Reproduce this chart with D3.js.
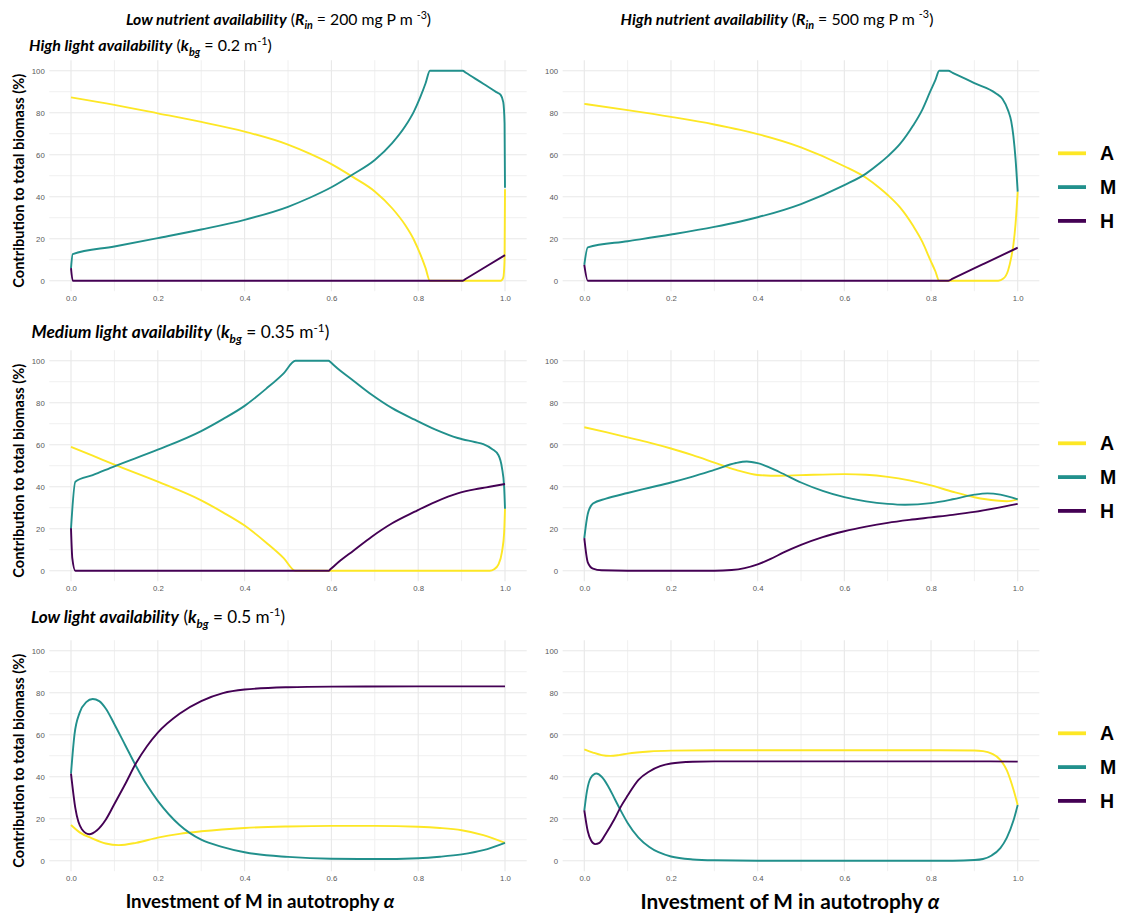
<!DOCTYPE html>
<html>
<head>
<meta charset="utf-8">
<script src="https://cdn.jsdelivr.net/npm/d3@7"></script>
<style>
  body { margin: 0; background: #fff; }
  svg { display: block; }
</style>
</head>
<body>
<svg id="fig" width="1121" height="916"></svg>
<script>
// Share of total biomass (%) of A, M and H along the investment of M in autotrophy (alpha).
// Each series is a list of [alpha, percent] pairs.

// Low nutrients, high light
const lowN_highL_A = [[0,87.3],[0.1,83.7],[0.2,79.7],[0.3,75.6],[0.4,71],[0.5,64.8],[0.55,60.5],[0.6,55.5],[0.65,49.3],[0.7,42.5],[0.74,34.5],[0.77,26.5],[0.79,19.5],[0.805,12.5],[0.817,6],[0.827,0],[0.99,0],[0.996,1.5],[0.999,10],[1,43.5]];
const lowN_highL_M = [[0,6],[0.004,12.7],[0.1,16.3],[0.2,20.3],[0.3,24.4],[0.4,29],[0.5,35.2],[0.55,39.5],[0.6,44.5],[0.65,50.7],[0.7,57.5],[0.74,65.5],[0.77,73.5],[0.79,80.5],[0.805,87.5],[0.817,94],[0.827,100],[0.9025,100],[0.91,99],[0.95,93.8],[0.98,89.8],[0.99,88.5],[0.996,85],[0.999,75],[1,44.3]];
const lowN_highL_H = [[0,6],[0.004,0],[0.9025,0],[0.91,0.94],[0.95,5.95],[1,12.2]];

// High nutrients, high light
const highN_highL_A = [[0,84.2],[0.1,81.2],[0.2,78],[0.3,74.4],[0.36,71.8],[0.4,69.8],[0.5,63.5],[0.6,54.5],[0.65,49],[0.682,44],[0.7,40.8],[0.728,35],[0.759,26],[0.78,18.5],[0.798,10],[0.81,4.5],[0.819,0],[0.955,0],[0.967,1],[0.978,5],[0.985,11],[0.99,17],[0.995,27],[1,42.4]];
const highN_highL_M = [[0,7.5],[0.008,15.9],[0.1,18.8],[0.2,22],[0.3,25.6],[0.36,28.2],[0.4,30.2],[0.5,36.5],[0.6,45.5],[0.65,51],[0.682,56],[0.7,59.2],[0.728,65],[0.759,74],[0.78,81.5],[0.798,90],[0.81,95.5],[0.819,100],[0.84,100],[0.85,99],[0.9,94.1],[0.95,89.2],[0.965,86.5],[0.978,81],[0.985,76],[0.99,69],[0.995,58],[1,42.4]];
const highN_highL_H = [[0,7.5],[0.008,0],[0.84,0],[0.85,0.98],[0.92,7.85],[1,15.7]];

// Low nutrients, medium light
const lowN_medL_A = [[0,59],[0.05,54.8],[0.1,50.5],[0.2,42.4],[0.3,33.5],[0.35,27.8],[0.4,21.5],[0.45,13.3],[0.49,6],[0.517,0],[0.965,0],[0.975,0.7],[0.985,3],[0.993,9],[0.998,18],[1,29.5]];
const lowN_medL_M = [[0,20],[0.01,42.4],[0.05,45.5],[0.1,49.7],[0.2,57.6],[0.3,66.5],[0.35,72.2],[0.4,78.5],[0.45,86.7],[0.49,94],[0.517,100],[0.594,100],[0.597,99.46],[0.62,95.3],[0.65,90.6],[0.693,83.8],[0.74,77.4],[0.792,71.9],[0.84,67.2],[0.891,63.2],[0.93,61.3],[0.95,60.3],[0.97,58],[0.985,55],[0.993,49],[0.998,40],[1,29.5]];
const lowN_medL_H = [[0,20.2],[0.003,6],[0.01,0],[0.594,0],[0.597,0.54],[0.62,4.7],[0.65,9.4],[0.693,16.2],[0.74,22.6],[0.792,28.1],[0.84,32.8],[0.891,36.8],[0.93,38.7],[0.957,39.7],[1,41.3]];

// High nutrients, medium light
const highN_medL_A = [[0,68.3],[0.05,66],[0.1,63.5],[0.15,61],[0.2,58.2],[0.25,55],[0.3,51.5],[0.35,48],[0.4,45.6],[0.45,45.2],[0.5,45.5],[0.6,46],[0.65,45.7],[0.7,44.7],[0.75,43],[0.8,40.6],[0.85,37.6],[0.9,35],[0.95,33.4],[0.975,33.1],[1,34]];
const highN_medL_M = [[0,15.5],[0.008,27],[0.02,32],[0.05,34.3],[0.1,37],[0.15,39.5],[0.2,42],[0.25,44.8],[0.3,48],[0.35,51.3],[0.375,52],[0.4,51.2],[0.45,47],[0.5,42],[0.55,38],[0.6,35],[0.65,33],[0.7,31.8],[0.74,31.4],[0.8,32.2],[0.85,34],[0.9,36.2],[0.93,36.8],[0.96,36.2],[1,34]];
const highN_medL_H = [[0,15.5],[0.008,4],[0.02,1],[0.04,0.2],[0.1,0],[0.3,0],[0.34,0.3],[0.37,1.2],[0.4,3],[0.43,5.6],[0.46,8.7],[0.5,12.3],[0.55,16],[0.6,18.8],[0.65,21],[0.7,22.8],[0.75,24.2],[0.8,25.4],[0.85,26.6],[0.9,28],[0.95,29.8],[1,31.8]];

// Low nutrients, low light
const lowN_lowL_A = [[0,17],[0.02,13.5],[0.05,10.5],[0.08,8.2],[0.11,7.4],[0.15,8.5],[0.2,11],[0.25,12.8],[0.3,14],[0.4,15.6],[0.5,16.3],[0.6,16.6],[0.7,16.6],[0.8,16.2],[0.85,15.6],[0.9,14.5],[0.95,12.2],[1,8.5]];
const lowN_lowL_M = [[0,41.5],[0.008,60],[0.02,70.5],[0.035,75.5],[0.05,77],[0.065,76],[0.08,72.5],[0.1,65],[0.125,55],[0.15,45],[0.175,36],[0.2,28.5],[0.25,17],[0.3,10],[0.35,6.5],[0.4,4],[0.5,1.8],[0.6,0.9],[0.7,0.8],[0.8,1.2],[0.85,1.9],[0.9,3],[0.95,5],[1,8.5]];
const lowN_lowL_H = [[0,41.5],[0.01,25],[0.025,15],[0.042,12.6],[0.06,14.5],[0.08,19.5],[0.1,27],[0.125,36.5],[0.15,46.5],[0.175,54.5],[0.2,61],[0.25,70],[0.3,76],[0.35,79.8],[0.4,81.5],[0.5,82.6],[0.6,82.9],[0.8,83],[1,83]];

// High nutrients, low light
const highN_lowL_A = [[0,53],[0.02,51.5],[0.04,50.3],[0.06,49.9],[0.08,50.3],[0.1,51],[0.15,52],[0.2,52.4],[0.3,52.6],[0.5,52.6],[0.7,52.6],[0.9,52.5],[0.92,52.2],[0.94,51],[0.96,48],[0.975,43],[0.99,34],[1,26.5]];
const highN_lowL_M = [[0,23.8],[0.006,33],[0.015,39.5],[0.028,41.5],[0.04,40],[0.055,35.5],[0.07,29.5],[0.085,23.5],[0.1,18],[0.125,11],[0.15,6.5],[0.2,2],[0.25,0.6],[0.3,0.2],[0.4,0],[0.85,0],[0.9,0.3],[0.92,0.8],[0.94,2.5],[0.96,6],[0.975,11],[0.99,19],[1,26.5]];
const highN_lowL_H = [[0,24],[0.008,14],[0.016,9.5],[0.025,7.9],[0.035,8.5],[0.05,13],[0.07,20],[0.085,26],[0.1,31],[0.125,38.5],[0.15,42.5],[0.175,45],[0.2,46.3],[0.25,47.1],[0.3,47.3],[0.6,47.3],[0.9,47.3],[1,47.2]];

// Groups, axis ticks and labels
const groups = ["A", "M", "H"];
const groupColors = ["#FDE725", "#21908C", "#440154"];
const xTicks = [0, 0.2, 0.4, 0.6, 0.8, 1.0];
const yTicks = [0, 20, 40, 60, 80, 100];
const xMinor = [0.1, 0.3, 0.5, 0.7, 0.9];
const yMinor = [10, 30, 50, 70, 90];

const panels = [
  { col: 0, row: 0, series: [lowN_highL_A, lowN_highL_M, lowN_highL_H] },
  { col: 1, row: 0, series: [highN_highL_A, highN_highL_M, highN_highL_H] },
  { col: 0, row: 1, series: [lowN_medL_A, lowN_medL_M, lowN_medL_H] },
  { col: 1, row: 1, series: [highN_medL_A, highN_medL_M, highN_medL_H] },
  { col: 0, row: 2, series: [lowN_lowL_A, lowN_lowL_M, lowN_lowL_H] },
  { col: 1, row: 2, series: [highN_lowL_A, highN_lowL_M, highN_lowL_H] }
];

const colTitles = [
  [{t:"Low nutrient availability", b:1, i:1}, {t:" ("}, {t:"R", b:1, i:1}, {t:"in", b:1, i:1, sub:1}, {t:" = 200 mg P m "}, {t:"-3", sup:1}, {t:")"}],
  [{t:"High nutrient availability", b:1, i:1}, {t:" ("}, {t:"R", b:1, i:1}, {t:"in", b:1, i:1, sub:1}, {t:" = 500 mg P m "}, {t:"-3", sup:1}, {t:")"}]
];
const rowTitles = [
  [{t:"High light availability", b:1, i:1}, {t:" ("}, {t:"k", b:1, i:1}, {t:"bg", b:1, i:1, sub:1}, {t:" = 0.2 m"}, {t:"-1", sup:1}, {t:")"}],
  [{t:"Medium light availability", b:1, i:1}, {t:" ("}, {t:"k", b:1, i:1}, {t:"bg", b:1, i:1, sub:1}, {t:" = 0.35 m"}, {t:"-1", sup:1}, {t:")"}],
  [{t:"Low light availability", b:1, i:1}, {t:" ("}, {t:"k", b:1, i:1}, {t:"bg", b:1, i:1, sub:1}, {t:" = 0.5 m"}, {t:"-1", sup:1}, {t:")"}]
];
const yTitle = "Contribution to total biomass (%)";
const xTitle = [{t:"Investment of M in autotrophy ", b:1}, {t:"\u03b1", b:1, i:1}];

// Layout
const svg = d3.select("#fig");
const titleFont = "Lato, 'Open Sans', 'DejaVu Sans', sans-serif";
const tickFont = "'Liberation Sans', Arial, sans-serif";
const colRange = [[71, 505], [584.3, 1017.7]];
const rowStep = 290;
const rowTop = 70.7, rowBottom = 280.7;

function rich(sel, x, y, segs, size, anchor) {
  const text = sel.append("text")
    .attr("x", x).attr("y", y)
    .attr("text-anchor", anchor || "start")
    .style("font-family", titleFont)
    .style("font-size", size + "px")
    .attr("fill", "#000");
  let shift = 0;
  segs.forEach(s => {
    const target = s.sub ? 0.3 * size : s.sup ? -0.38 * size : 0;
    text.append("tspan")
      .attr("dy", target - shift)
      .style("font-weight", s.b ? "bold" : "normal")
      .style("font-style", s.i ? "italic" : "normal")
      .style("font-size", (s.sub || s.sup) ? (0.68 * size) + "px" : null)
      .text(s.t);
    shift = target;
  });
  return text;
}

const line = d3.line().curve(d3.curveMonotoneX);

panels.forEach(p => {
  const x = d3.scaleLinear().domain([0, 1]).range(colRange[p.col]);
  const y = d3.scaleLinear().domain([0, 100]).range([rowBottom + p.row * rowStep, rowTop + p.row * rowStep]);
  const [xl, xr] = [x(-0.05), x(1.05)];
  const [yb, yt] = [y(-5), y(105)];
  const g = svg.append("g");

  // grid
  const grid = g.append("g");
  grid.selectAll(".vmin").data(xMinor).join("line")
    .attr("x1", d => x(d)).attr("x2", d => x(d)).attr("y1", yb).attr("y2", yt)
    .attr("stroke", "#f0f0f0").attr("stroke-width", 1);
  grid.selectAll(".hmin").data(yMinor).join("line")
    .attr("x1", xl).attr("x2", xr).attr("y1", d => y(d)).attr("y2", d => y(d))
    .attr("stroke", "#f0f0f0").attr("stroke-width", 1);
  grid.selectAll(".vmaj").data(xTicks).join("line")
    .attr("x1", d => x(d)).attr("x2", d => x(d)).attr("y1", yb).attr("y2", yt)
    .attr("stroke", "#e8e8e8").attr("stroke-width", 1.1);
  grid.selectAll(".hmaj").data(yTicks).join("line")
    .attr("x1", xl).attr("x2", xr).attr("y1", d => y(d)).attr("y2", d => y(d))
    .attr("stroke", "#e8e8e8").attr("stroke-width", 1.1);

  // axes
  const xAxis = g.append("g").attr("transform", `translate(0,${yb})`)
    .call(d3.axisBottom(x).tickValues(xTicks).tickSize(0).tickPadding(4.5).tickFormat(d3.format(".1f")));
  const yAxis = g.append("g").attr("transform", `translate(${xl},0)`)
    .call(d3.axisLeft(y).tickValues(yTicks).tickSize(0).tickPadding(4.5));
  [xAxis, yAxis].forEach(a => {
    a.select(".domain").remove();
    a.selectAll("text").attr("fill", "#5a5a5a")
      .style("font-family", tickFont).style("font-size", "7.8px");
  });

  // series
  p.series.forEach((s, k) => {
    g.append("path")
      .datum(s)
      .attr("d", line.x(d => x(d[0])).y(d => y(d[1])))
      .attr("fill", "none")
      .attr("stroke", groupColors[k])
      .attr("stroke-width", 1.9)
      .attr("stroke-linejoin", "round")
      .attr("stroke-linecap", "butt");
  });

  if (p.col === 0) {
    svg.append("text")
      .attr("transform", `translate(23.5,${(yb + yt) / 2 + 5}) rotate(-90)`)
      .attr("text-anchor", "middle")
      .style("font-family", titleFont).style("font-size", "14.6px").style("font-weight", "bold")
      .text(yTitle);
  } else {
    // legend
    const lg = svg.append("g").attr("transform", `translate(0,${153.3 + p.row * rowStep})`);
    groups.forEach((name, k) => {
      lg.append("line")
        .attr("x1", 1058).attr("x2", 1086).attr("y1", k * 33.8).attr("y2", k * 33.8)
        .attr("stroke", groupColors[k]).attr("stroke-width", 3.8);
      lg.append("text")
        .attr("x", 1100).attr("y", k * 33.8 + 7)
        .style("font-family", tickFont).style("font-size", "19.5px").style("font-weight", "bold")
        .text(name);
    });
  }

  if (p.row === 2) {
    if (p.col === 0) rich(svg, 260, 907.5, xTitle, 18.7, "middle");
    else rich(svg, 790, 908.5, xTitle, 20.8, "middle");
  }
});

// column and row headings
rich(svg, 278.5, 24.5, colTitles[0], 15.75, "middle");
rich(svg, 777, 24.5, colTitles[1], 15.9, "middle");
const rowBase = [50.7, 338.3, 622.7];
const rowSize = [16, 17.3, 17.1];
const rowX = [29, 31.5, 31];
rowTitles.forEach((t, r) => rich(svg, rowX[r], rowBase[r], t, rowSize[r], "start"));
</script>
</body>
</html>
